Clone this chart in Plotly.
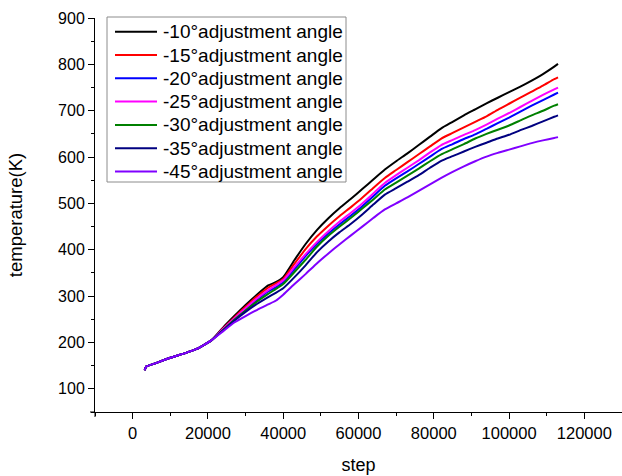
import plotly.graph_objects as go

steps = [3200, 3600, 6000, 10000, 14000, 17000, 19000, 21000, 24000, 27000, 30000,
         33000, 36000, 38000, 40000, 43000, 46000, 49000, 52000, 55000, 58000, 61000,
         64000, 67000, 70000, 73000, 76000, 79000, 82000, 85000, 88000, 91000, 94000,
         97000, 100000, 103000, 106000, 109000, 112000, 113000]

common = [140, 148, 155, 167, 177, 186, 195, 205]

t_m10 = common + [232, 257, 281, 303, 323, 330, 341, 378, 413, 443, 468, 490, 510, 531,
                  552, 573, 591, 608, 626, 644, 662, 676, 690, 703, 716, 728, 740, 752,
                  765, 779, 795, 801]
t_m15 = common + [230, 254, 277, 299, 318, 327, 337, 370, 402, 429, 452, 473, 492, 512,
                  534, 555, 572, 589, 606, 623, 640, 652, 664, 676, 688, 702, 715, 728,
                  741, 754, 768, 772]
t_m20 = common + [228, 251, 272, 292, 310, 319, 330, 358, 387, 413, 435, 455, 474, 494,
                  516, 538, 554, 569, 585, 601, 617, 628, 639, 649, 661, 673, 685, 698,
                  711, 723, 735, 739]
t_m25 = common + [229, 252, 274, 295, 313, 323, 334, 363, 391, 417, 440, 461, 480, 500,
                  522, 544, 561, 577, 593, 610, 626, 637, 648, 658, 670, 683, 695, 708,
                  721, 734, 746, 750]
t_m30 = common + [227, 249, 269, 288, 305, 315, 326, 352, 379, 407, 430, 450, 469, 489,
                  509, 530, 545, 560, 575, 591, 606, 617, 628, 640, 650, 659, 668, 679,
                  690, 700, 711, 714]
t_m35 = common + [226, 247, 266, 283, 298, 307, 317, 341, 367, 395, 418, 438, 456, 476,
                  498, 519, 533, 547, 561, 577, 592, 602, 612, 622, 631, 640, 648, 658,
                  667, 677, 687, 690]
t_m45 = common + [224, 243, 257, 270, 282, 290, 303, 326, 348, 371, 392, 412, 431, 450,
                  469, 487, 500, 513, 527, 541, 555, 568, 580, 591, 601, 609, 616, 623,
                  630, 636, 641, 643]

names = ["-10°adjustment angle", "-15°adjustment angle", "-20°adjustment angle",
         "-25°adjustment angle", "-30°adjustment angle", "-35°adjustment angle",
         "-45°adjustment angle"]
series = [t_m10, t_m15, t_m20, t_m25, t_m30, t_m35, t_m45]
colors = ["#000000", "#FF0000", "#0000FF", "#FF00FF", "#008000", "#000080", "#8000FF"]

FONT = "Arial, Liberation Sans, sans-serif"

W, H = 622, 476
ML, MR, MT, MB = 95, 0, 18, 64
PW, PH = W - ML - MR, H - MT - MB


def px(x):
    return (x - ML) / PW


def py(y):
    return (H - MB - y) / PH


fig = go.Figure()
for name, ys, c in zip(names, series, colors):
    fig.add_trace(go.Scatter(x=steps, y=ys, mode="lines", name=name,
                             line=dict(color=c, width=2, shape="spline", smoothing=0.5),
                             showlegend=False))

# Legend drawn as box + line samples + text (matches the original's compact spacing)
shapes = [dict(type="rect", xref="paper", yref="paper",
               x0=px(107), x1=px(346), y0=py(182), y1=py(17),
               line=dict(color="#8c8c8c", width=1), fillcolor="white", layer="above")]
# small axis overhangs at the origin corner
shapes.append(dict(type="line", xref="paper", yref="paper", x0=0, x1=0,
                   y0=py(417), y1=0, line=dict(color="black", width=1)))
shapes.append(dict(type="line", xref="paper", yref="paper", x0=px(90), x1=0,
                   y0=0, y1=0, line=dict(color="black", width=1)))
annotations = []
for i, (name, c) in enumerate(zip(names, colors)):
    yc = 31.7 + 23.3 * i
    shapes.append(dict(type="line", xref="paper", yref="paper",
                       x0=px(115), x1=px(157), y0=py(yc), y1=py(yc),
                       line=dict(color=c, width=2), layer="above"))
    annotations.append(dict(text=name, xref="paper", yref="paper",
                            x=px(161), y=py(yc), xanchor="left", yanchor="middle",
                            showarrow=False, font=dict(size=19, family=FONT, color="black")))

fig.update_layout(
    width=W, height=H,
    margin=dict(l=ML, r=MR, t=MT, b=MB),
    plot_bgcolor="white", paper_bgcolor="white",
    font=dict(family=FONT, color="black", size=16),
    showlegend=False,
    shapes=shapes, annotations=annotations,
    xaxis=dict(range=[-10000, 130000], tickmode="linear", tick0=0, dtick=20000,
               tickformat="d", showgrid=False, zeroline=False,
               showline=True, linecolor="black", linewidth=1,
               ticks="outside", ticklen=6, tickcolor="black",
               tickfont=dict(size=16.5),
               minor=dict(dtick=10000, tick0=0, ticks="outside", ticklen=3,
                          tickcolor="black", showgrid=False),
               title=dict(text="step", font=dict(size=18), standoff=17)),
    yaxis=dict(range=[50, 900], tickmode="linear", tick0=0, dtick=100,
               showgrid=False, zeroline=False,
               showline=True, linecolor="black", linewidth=1,
               ticks="outside", ticklen=6, tickcolor="black",
               tickfont=dict(size=16),
               minor=dict(dtick=50, tick0=0, ticks="outside", ticklen=3,
                          tickcolor="black", showgrid=False),
               title=dict(text="temperature(K)", font=dict(size=18.5), standoff=30)),
)

fig.write_html("out.html")
